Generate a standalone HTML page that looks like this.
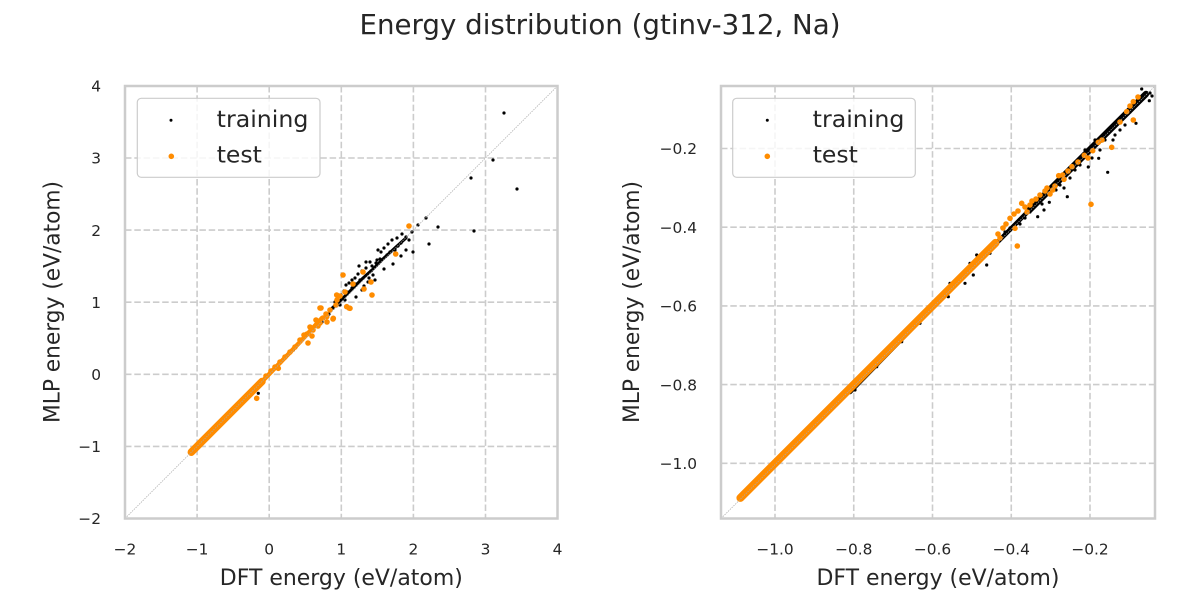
<!DOCTYPE html>
<html><head><meta charset="utf-8"><style>
html,body{margin:0;padding:0;background:#fff;}
svg{display:block;}
text{font-family:"DejaVu Sans","Liberation Sans",sans-serif;fill:#262626;}
.tk{font-size:15.4px;}
.lb{font-size:22px;}
.lg{font-size:23.5px;}
.g{stroke:#cccccc;stroke-width:1.6;stroke-dasharray:6.5,2.8;fill:none;}
.sp{stroke:#cccccc;stroke-width:2.5;fill:none;}
.b circle{fill:#000;}
.o circle{fill:#ff8c00;}
</style></head><body>
<svg width="1200" height="600" viewBox="0 0 1200 600" xmlns="http://www.w3.org/2000/svg">
<rect width="1200" height="600" fill="#fff"/>
<text x="600" y="34" text-anchor="middle" style="font-size:27.6px" textLength="481" lengthAdjust="spacingAndGlyphs">Energy distribution (gtinv-312, Na)</text>

<defs>
<clipPath id="cl"><rect x="125" y="86" width="432.5" height="432.5"/></clipPath>
<clipPath id="cr"><rect x="721" y="86" width="434" height="432.5"/></clipPath>
</defs>

<!-- LEFT AXES -->
<g class="g">
<line x1="197.1" y1="86" x2="197.1" y2="518.5"/>
<line x1="269.2" y1="86" x2="269.2" y2="518.5"/>
<line x1="341.3" y1="86" x2="341.3" y2="518.5"/>
<line x1="413.4" y1="86" x2="413.4" y2="518.5"/>
<line x1="485.5" y1="86" x2="485.5" y2="518.5"/>
<line x1="125" y1="446.4" x2="557.5" y2="446.4"/>
<line x1="125" y1="374.3" x2="557.5" y2="374.3"/>
<line x1="125" y1="302.2" x2="557.5" y2="302.2"/>
<line x1="125" y1="230.1" x2="557.5" y2="230.1"/>
<line x1="125" y1="158" x2="557.5" y2="158"/>
</g>
<g clip-path="url(#cl)">
<polyline points="330,310 340,301 352,289 362,279 372,270 384,258 396,247 406,238" stroke="#000" stroke-width="3" fill="none" stroke-linecap="round"/>
<g class="b">
<circle cx="504" cy="113" r="1.6"/><circle cx="493" cy="160" r="1.6"/><circle cx="471" cy="178" r="1.6"/><circle cx="517" cy="189" r="1.6"/>
<circle cx="426" cy="218" r="1.6"/><circle cx="418" cy="225" r="1.6"/><circle cx="438" cy="227" r="1.6"/><circle cx="474" cy="231" r="1.6"/>
<circle cx="429" cy="244" r="1.6"/><circle cx="413" cy="252" r="1.6"/><circle cx="412" cy="232" r="1.6"/><circle cx="406" cy="237" r="1.6"/>
<circle cx="401" cy="243" r="1.6"/><circle cx="398" cy="246" r="1.6"/><circle cx="392" cy="240" r="1.6"/><circle cx="384" cy="248" r="1.6"/>
<circle cx="395" cy="250" r="1.6"/><circle cx="390" cy="252" r="1.6"/><circle cx="387" cy="255" r="1.6"/><circle cx="380" cy="259" r="1.6"/>
<circle cx="376" cy="263" r="1.6"/><circle cx="370" cy="262" r="1.6"/><circle cx="384" cy="269" r="1.6"/><circle cx="393" cy="264" r="1.6"/>
<circle cx="372" cy="266" r="1.6"/><circle cx="366" cy="268" r="1.6"/><circle cx="362" cy="271" r="1.6"/><circle cx="358" cy="274" r="1.6"/>
<circle cx="355" cy="278" r="1.6"/><circle cx="352" cy="280" r="1.6"/><circle cx="349" cy="283" r="1.6"/><circle cx="346" cy="285" r="1.6"/>
<circle cx="356" cy="284" r="1.6"/><circle cx="360" cy="280" r="1.6"/><circle cx="369" cy="278" r="1.6"/><circle cx="373" cy="275" r="1.6"/>
<circle cx="344" cy="291" r="1.6"/><circle cx="341" cy="295" r="1.6"/><circle cx="347" cy="292" r="1.6"/><circle cx="352" cy="288" r="1.6"/>
<circle cx="338" cy="298" r="1.6"/><circle cx="345" cy="300" r="1.6"/><circle cx="335" cy="302" r="1.6"/><circle cx="356" cy="297" r="1.6"/>
<circle cx="364" cy="286" r="1.6"/><circle cx="368" cy="282" r="1.6"/><circle cx="377" cy="260" r="1.6"/><circle cx="401" cy="256" r="1.6"/>
<circle cx="406" cy="250" r="1.6"/><circle cx="409" cy="240" r="1.6"/><circle cx="381" cy="252" r="1.6"/><circle cx="371" cy="271" r="1.6"/>
<circle cx="340" cy="305" r="1.6"/><circle cx="333" cy="308" r="1.6"/><circle cx="256.7" cy="386.7" r="1.6"/><circle cx="258.3" cy="393.3" r="1.6"/>
<circle cx="276.7" cy="366.7" r="1.6"/><circle cx="293.3" cy="350" r="1.6"/><circle cx="270" cy="372" r="1.6"/><circle cx="272" cy="370" r="1.6"/>
<circle cx="299" cy="343" r="1.6"/><circle cx="313" cy="330" r="1.6"/><circle cx="322" cy="322" r="1.6"/><circle cx="329" cy="314" r="1.6"/>
<circle cx="388" cy="244" r="1.6"/><circle cx="378" cy="250" r="1.6"/><circle cx="366" cy="262" r="1.6"/><circle cx="359" cy="266" r="1.6"/>
<circle cx="397" cy="238" r="1.6"/><circle cx="402" cy="234" r="1.6"/><circle cx="362" cy="290" r="1.6"/><circle cx="375" cy="280" r="1.6"/>
</g>
<polyline points="191.3,452.2 262,381.5" stroke="#ff8c00" stroke-width="7.5" fill="none" stroke-linecap="round"/>
<polyline points="262,381.5 300,342 322,318" stroke="#ff8c00" stroke-width="4.5" fill="none" stroke-linecap="round"/>
<g class="o">
<circle cx="409" cy="226" r="2.8"/><circle cx="395.7" cy="254" r="2.8"/><circle cx="343" cy="275" r="2.8"/><circle cx="363" cy="272" r="2.8"/>
<circle cx="353" cy="284" r="2.8"/><circle cx="371" cy="282" r="2.8"/><circle cx="364" cy="289" r="2.8"/><circle cx="372" cy="295" r="2.8"/>
<circle cx="349" cy="308" r="2.8"/><circle cx="333" cy="319" r="2.8"/><circle cx="321" cy="308" r="2.8"/><circle cx="340" cy="296" r="2.8"/>
<circle cx="345" cy="292" r="2.8"/><circle cx="337" cy="300" r="2.8"/><circle cx="320" cy="308" r="2.8"/><circle cx="316" cy="320" r="2.8"/>
<circle cx="326" cy="314" r="2.8"/><circle cx="330" cy="310" r="2.8"/><circle cx="336" cy="305" r="2.8"/><circle cx="310" cy="327" r="2.8"/>
<circle cx="313" cy="330" r="2.8"/><circle cx="320" cy="323" r="2.8"/><circle cx="323" cy="318" r="2.8"/><circle cx="327" cy="322" r="2.8"/>
<circle cx="304" cy="335" r="2.8"/><circle cx="300" cy="340" r="2.8"/><circle cx="295" cy="347" r="2.8"/><circle cx="290" cy="352" r="2.8"/>
<circle cx="285" cy="357" r="2.8"/><circle cx="280" cy="362" r="2.8"/><circle cx="275" cy="367" r="2.8"/><circle cx="271" cy="371" r="2.8"/>
<circle cx="266" cy="376" r="2.8"/><circle cx="261.7" cy="381.7" r="2.8"/><circle cx="256.7" cy="398.3" r="2.8"/><circle cx="278.3" cy="368.3" r="2.8"/>
<circle cx="308" cy="343" r="2.8"/><circle cx="336.7" cy="295" r="2.8"/><circle cx="346.7" cy="306.7" r="2.8"/><circle cx="350" cy="308.3" r="2.8"/>
<circle cx="333.3" cy="318.3" r="2.8"/><circle cx="326.7" cy="316.7" r="2.8"/><circle cx="243" cy="400" r="2.8"/><circle cx="248" cy="395" r="2.8"/>
<circle cx="307" cy="334" r="2.8"/><circle cx="318" cy="326" r="2.8"/><circle cx="312" cy="336" r="2.8"/>
</g>
<line x1="125" y1="518.5" x2="557.5" y2="86" stroke="#aaaaaa" stroke-width="0.7" stroke-dasharray="1.5,1"/>
</g>
<rect x="125" y="86" width="432.5" height="432.5" class="sp"/>

<g class="tk" text-anchor="middle">
<text x="125" y="554.5">−2</text><text x="197.1" y="554.5">−1</text><text x="269.2" y="554.5">0</text>
<text x="341.3" y="554.5">1</text><text x="413.4" y="554.5">2</text><text x="485.5" y="554.5">3</text><text x="557.5" y="554.5">4</text>
</g>
<g class="tk" text-anchor="end">
<text x="101" y="524">−2</text><text x="101" y="452">−1</text><text x="101" y="380">0</text>
<text x="101" y="308">1</text><text x="101" y="236">2</text><text x="101" y="163.5">3</text><text x="101" y="91.5">4</text>
</g>
<text class="lb" x="341.3" y="585" text-anchor="middle" textLength="243" lengthAdjust="spacingAndGlyphs">DFT energy (eV/atom)</text>
<text class="lb" transform="translate(59.5,302) rotate(-90)" text-anchor="middle" textLength="242" lengthAdjust="spacingAndGlyphs">MLP energy (eV/atom)</text>

<rect x="137.3" y="98.3" width="182.7" height="79" rx="4" fill="#fff" fill-opacity="0.8" stroke="#cccccc" stroke-width="1.2"/>
<circle cx="171" cy="120.3" r="1.5" fill="#000"/>
<circle cx="171.3" cy="156.3" r="2.8" fill="#ff8c00"/>
<text class="lg" x="216.7" y="127" textLength="91.7" lengthAdjust="spacingAndGlyphs">training</text>
<text class="lg" x="216.7" y="162.7">test</text>

<!-- RIGHT AXES -->
<g class="g">
<line x1="775" y1="86" x2="775" y2="518.5"/>
<line x1="853.75" y1="86" x2="853.75" y2="518.5"/>
<line x1="932.5" y1="86" x2="932.5" y2="518.5"/>
<line x1="1011.25" y1="86" x2="1011.25" y2="518.5"/>
<line x1="1090" y1="86" x2="1090" y2="518.5"/>
<line x1="721" y1="463.3" x2="1155" y2="463.3"/>
<line x1="721" y1="384.6" x2="1155" y2="384.6"/>
<line x1="721" y1="305.9" x2="1155" y2="305.9"/>
<line x1="721" y1="227.2" x2="1155" y2="227.2"/>
<line x1="721" y1="148.5" x2="1155" y2="148.5"/>
</g>
<g clip-path="url(#cr)">
<polyline points="850,392 932.5,307.5 1030,209.5" stroke="#000" stroke-width="4.5" fill="none" stroke-linecap="round"/>
<polyline points="1030,209.5 1090,149.5 1146,94" stroke="#000" stroke-width="6.5" fill="none" stroke-linecap="round"/>
<g class="b">
<circle cx="1107.7" cy="172.3" r="1.6"/><circle cx="1136" cy="123.3" r="1.6"/><circle cx="1149.3" cy="100.7" r="1.6"/><circle cx="1141.7" cy="89" r="1.6"/>
<circle cx="1067.3" cy="196.7" r="1.6"/><circle cx="1088.3" cy="167" r="1.6"/><circle cx="1098.7" cy="158.3" r="1.6"/><circle cx="1049.3" cy="202.3" r="1.6"/>
<circle cx="1037.7" cy="216.7" r="1.6"/><circle cx="1145" cy="95" r="1.6"/><circle cx="1150" cy="93" r="1.6"/><circle cx="1120" cy="130" r="1.6"/>
<circle cx="1125" cy="125" r="1.6"/><circle cx="1115" cy="135" r="1.6"/><circle cx="1105" cy="140" r="1.6"/><circle cx="1100" cy="150" r="1.6"/>
<circle cx="1080" cy="165" r="1.6"/><circle cx="1075" cy="170" r="1.6"/><circle cx="1060" cy="185" r="1.6"/><circle cx="1048" cy="192" r="1.6"/>
<circle cx="1042" cy="204" r="1.6"/><circle cx="1030" cy="212" r="1.6"/><circle cx="1025" cy="218" r="1.6"/><circle cx="1010" cy="228" r="1.6"/>
<circle cx="1005" cy="232" r="1.6"/><circle cx="1118" cy="122" r="1.6"/><circle cx="1110" cy="128" r="1.6"/><circle cx="1140" cy="100" r="1.6"/>
<circle cx="855" cy="390" r="1.6"/><circle cx="876.7" cy="366.7" r="1.6"/><circle cx="891.7" cy="350" r="1.6"/><circle cx="901.7" cy="341.7" r="1.6"/>
<circle cx="920" cy="323.3" r="1.6"/><circle cx="938.3" cy="300" r="1.6"/><circle cx="948.3" cy="296.7" r="1.6"/><circle cx="950" cy="283.3" r="1.6"/>
<circle cx="965" cy="283.3" r="1.6"/><circle cx="973.3" cy="275" r="1.6"/><circle cx="970" cy="263.3" r="1.6"/><circle cx="986.7" cy="265" r="1.6"/>
<circle cx="976.7" cy="255" r="1.6"/><circle cx="990" cy="253.3" r="1.6"/><circle cx="1095" cy="140" r="1.6"/><circle cx="1130" cy="112" r="1.6"/>
<circle cx="1152" cy="96" r="1.6"/><circle cx="1085" cy="150" r="1.6"/><circle cx="1070" cy="178" r="1.6"/><circle cx="1056" cy="190" r="1.6"/>
<circle cx="1123" cy="118" r="1.6"/><circle cx="1113" cy="140" r="1.6"/><circle cx="1102" cy="136" r="1.6"/><circle cx="1092" cy="158" r="1.6"/>
<circle cx="1082" cy="158" r="1.6"/><circle cx="1064" cy="188" r="1.6"/><circle cx="1044" cy="210" r="1.6"/><circle cx="1020" cy="224" r="1.6"/>
</g>
<polyline points="740.4,497.9 995.5,242.9" stroke="#ff8c00" stroke-width="8" fill="none" stroke-linecap="round"/>
<g class="o">
<circle cx="1133.3" cy="101.7" r="2.8"/><circle cx="1126.7" cy="111.7" r="2.8"/><circle cx="1130" cy="106" r="2.8"/><circle cx="1133.3" cy="120" r="2.8"/>
<circle cx="1098.3" cy="142.3" r="2.8"/><circle cx="1111.7" cy="147.3" r="2.8"/><circle cx="1092.7" cy="150.7" r="2.8"/><circle cx="1084.3" cy="155.3" r="2.8"/>
<circle cx="1072" cy="166.7" r="2.8"/><circle cx="1062.7" cy="175" r="2.8"/><circle cx="1058.7" cy="175.7" r="2.8"/><circle cx="1064" cy="179.3" r="2.8"/>
<circle cx="1091" cy="204.3" r="2.8"/><circle cx="1052.7" cy="190" r="2.8"/><circle cx="1055" cy="186" r="2.8"/><circle cx="1045" cy="191" r="2.8"/>
<circle cx="1040" cy="195" r="2.8"/><circle cx="1036" cy="199" r="2.8"/><circle cx="1030" cy="205" r="2.8"/><circle cx="1025" cy="207" r="2.8"/>
<circle cx="1021.7" cy="203.3" r="2.8"/><circle cx="1018" cy="211" r="2.8"/><circle cx="1010" cy="218.3" r="2.8"/><circle cx="1014" cy="214" r="2.8"/>
<circle cx="1006" cy="224" r="2.8"/><circle cx="1017.3" cy="246" r="2.8"/><circle cx="1015" cy="228.3" r="2.8"/><circle cx="1003" cy="228" r="2.8"/>
<circle cx="998" cy="234" r="2.8"/><circle cx="1000" cy="238" r="2.8"/><circle cx="1068" cy="171" r="2.8"/><circle cx="1078" cy="162" r="2.8"/>
<circle cx="1032" cy="201" r="2.8"/><circle cx="1047" cy="188" r="2.8"/><circle cx="1088" cy="158" r="2.8"/><circle cx="1102" cy="140" r="2.8"/>
<circle cx="1120" cy="122" r="2.8"/><circle cx="1138" cy="97" r="2.8"/><circle cx="1050" cy="194" r="2.8"/><circle cx="1027" cy="212" r="2.8"/>
</g>
<line x1="721" y1="518.5" x2="1155" y2="86" stroke="#aaaaaa" stroke-width="0.7" stroke-dasharray="1.5,1"/>
</g>
<rect x="721" y="86" width="434" height="432.5" class="sp"/>

<g class="tk" text-anchor="middle">
<text x="775" y="554.5">−1.0</text><text x="853.75" y="554.5">−0.8</text><text x="932.5" y="554.5">−0.6</text>
<text x="1011.25" y="554.5">−0.4</text><text x="1090" y="554.5">−0.2</text>
</g>
<g class="tk" text-anchor="end">
<text x="697" y="469">−1.0</text><text x="697" y="390.3">−0.8</text><text x="697" y="311.6">−0.6</text>
<text x="697" y="232.9">−0.4</text><text x="697" y="154.2">−0.2</text>
</g>
<text class="lb" x="938" y="585" text-anchor="middle" textLength="243" lengthAdjust="spacingAndGlyphs">DFT energy (eV/atom)</text>
<text class="lb" transform="translate(639,302) rotate(-90)" text-anchor="middle" textLength="242" lengthAdjust="spacingAndGlyphs">MLP energy (eV/atom)</text>

<rect x="732.7" y="98.3" width="182.6" height="79" rx="4" fill="#fff" fill-opacity="0.8" stroke="#cccccc" stroke-width="1.2"/>
<circle cx="767.3" cy="120.3" r="1.5" fill="#000"/>
<circle cx="767.3" cy="156.3" r="2.8" fill="#ff8c00"/>
<text class="lg" x="812.7" y="127" textLength="91.7" lengthAdjust="spacingAndGlyphs">training</text>
<text class="lg" x="812.7" y="162.7">test</text>
</svg>
</body></html>
